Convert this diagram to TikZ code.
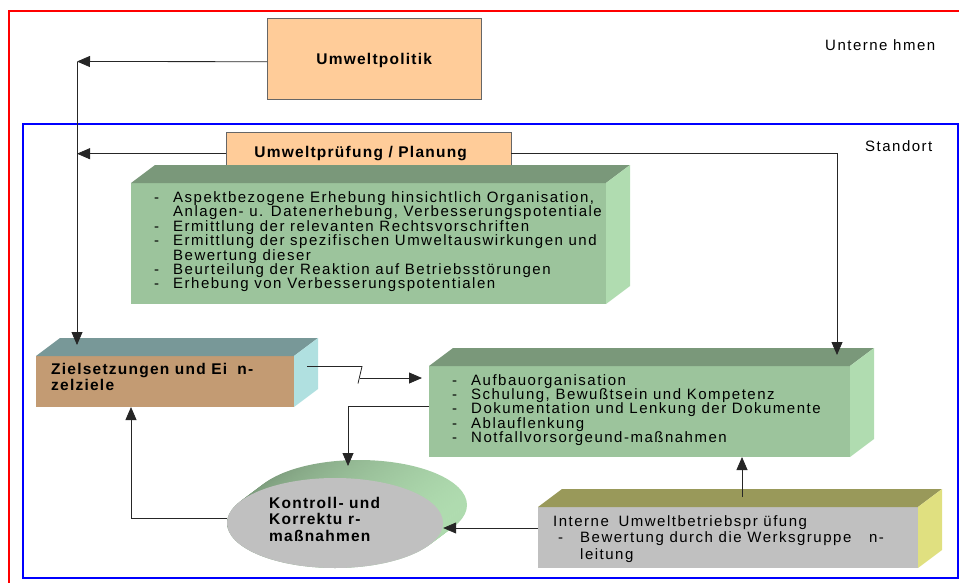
\documentclass[tikz,border=0pt]{standalone}
\usepackage{fontspec}
\setmainfont{Liberation Sans}
\newfontfamily\boxfont[LetterSpace=10]{Liberation Sans}
\newfontfamily\headfont[LetterSpace=8]{Liberation Sans}
\usetikzlibrary{arrows.meta, shapes.geometric}

\definecolor{peach}{HTML}{FFCC99}
\definecolor{greenfront}{HTML}{9CC49C}
\definecolor{greentop}{HTML}{7A987A}
\definecolor{greenside}{HTML}{B0DCB0}
\definecolor{tanfront}{HTML}{C39B73}
\definecolor{tantop}{HTML}{789898}
\definecolor{tanside}{HTML}{B0E0E0}
\definecolor{greyfront}{HTML}{C0C0C0}
\definecolor{olivetop}{HTML}{99995A}
\definecolor{yellowside}{HTML}{E0E080}

\newcommand{\strich}{\makebox[19pt][l]{-}}
\newcommand{\einzug}{\hspace*{19pt}}

\begin{document}
\begin{tikzpicture}[%
        x = 1pt, y = -1pt,
        pfeil/.style = {-{Triangle[length=13pt, width=11pt]}, line width=0.8pt, draw=black!85},
        flat/.style = {draw=black!60, fill=peach, anchor=north west, inner sep=0pt},
        quader/.style = {anchor=north west, inner sep=0pt, outer sep=0pt},
        txt/.style = {font=\boxfont\fontsize{15}{14.4}\selectfont, inner sep=0pt, anchor=north west, align=left},
        headtxt/.style = {font=\headfont\bfseries\fontsize{15.5}{16.5}\selectfont, inner sep=0pt}
    ]

        \useasboundingbox (0,0) rectangle (959,582);

        % Frames for company and site.
        \draw[red, line width=2pt] (9,590) -- (9,11) -- (970,11);
        \draw[blue, line width=2pt] (23,124) rectangle (958,578);
        \node[txt, anchor=base west] (unternehmen) at (825,50) {Unterne hmen};
        \node[txt, anchor=base west] (standort) at (865,151.5) {Standort};

        % Flat boxes at the top.
        \node[flat, minimum width=214, minimum height=81, headtxt, text depth=0pt] (politik) at (267,18) {Umweltpolitik};
        \node[flat, minimum width=285, minimum height=43, headtxt] (planung) at (226,132) {Umweltprüfung / Planung\hspace*{16pt}};

        % Front faces of the blocks.
        \node[quader, fill=greenfront, minimum width=475, minimum height=121] (aspekte) at (131,183) {};
        \node[quader, fill=tanfront, minimum width=258, minimum height=51] (ziel) at (36,356) {};
        \node[quader, fill=greenfront, minimum width=421, minimum height=91] (aufbau) at (429,366) {};
        \node[quader, fill=greyfront, minimum width=380, minimum height=61] (intern) at (538,507) {};

        % Top and side faces of the blocks.
        \foreach \nm/\tp/\sd in {aspekte/greentop/greenside, ziel/tantop/tanside,
                                 aufbau/greentop/greenside, intern/olivetop/yellowside}{%
            \fill[\tp] (\nm.north west) -- ++(24,-18) -- ([xshift=24pt, yshift=18pt]\nm.north east) -- (\nm.north east) -- cycle;
            \fill[\sd] (\nm.north east) -- ++(24,-18) -- ([xshift=24pt, yshift=18pt]\nm.south east) -- (\nm.south east) -- cycle;
        }

        % Ring behind the ellipse.
        \foreach \d in {24,22,...,0}{%
            \shade[left color=greentop, right color=greenside] ({335+\d},{523-0.75*\d}) ellipse [x radius=108, y radius=45];
        }
        \node[ellipse, fill=greyfront, minimum width=216, minimum height=90, inner sep=0pt] (kontroll) at (335,523) {};

        % Texts in the blocks.
        \node[txt] (aspektetext) at ([xshift=23pt, yshift=-8.5pt]aspekte.north west) {%
            \strich Aspektbezogene Erhebung hinsichtlich Organisation,\\
            \einzug Anlagen- u. Datenerhebung, Verbesserungspotentiale\\
            \strich Ermittlung der relevanten Rechtsvorschriften\\
            \strich Ermittlung der spezifischen Umweltauswirkungen und\\
            \einzug Bewertung dieser\\
            \strich Beurteilung der Reaktion auf Betriebsstörungen\\
            \strich Erhebung von Verbesserungspotentialen};
        \node[headtxt, anchor=north west, align=left] (zieltext) at ([xshift=15pt, yshift=-7pt]ziel.north west) {Zielsetzungen und Ei\hspace{10pt}n-\\zelziele};
        \node[txt, font=\boxfont\fontsize{15}{14.2}\selectfont] (aufbautext) at ([xshift=23pt, yshift=-8.5pt]aufbau.north west) {%
            \strich Aufbauorganisation\\
            \strich Schulung, Bewußtsein und Kompetenz\\
            \strich Dokumentation und Lenkung der Dokumente\\
            \strich Ablauflenkung\\
            \strich Notfallvorsorgeund-maßnahmen};
        \node[headtxt, anchor=north west, align=left] (kontrolltext) at (269,497) {Kontroll- und\\Korrektu r-\\maßnahmen};
        \node[txt, font=\boxfont\fontsize{15}{16.3}\selectfont] (interntext) at ([xshift=15pt, yshift=-8.5pt]intern.north west) {%
            Interne\hspace{4pt} Umweltbetriebspr üfung\\
            \hspace*{5pt}\makebox[22pt][l]{-}Bewertung durch die Werksgruppe\hspace{12pt} n-\\
            \hspace*{27pt}leitung};

        % Corners of the connectors.
        \coordinate (lk) at (77,61.5);
        \coordinate (rk) at (837,355);
        \coordinate (kt) at (348,466);
        \coordinate (knick) at (360,378);
        \coordinate (ia) at ([xshift=14pt, yshift=10pt]intern.north);

        % Connectors.
        \draw[pfeil] ([yshift=-3pt]politik.west) -- (lk);
        \draw[pfeil] (lk) -- ([yshift=11pt]ziel.north -| lk);
        \draw[pfeil] (planung.west) -- (planung.west -| lk);
        \draw[pfeil] (planung.east) -| (rk);
        \draw[line width=0.8pt, black!85] ([xshift=13pt, yshift=15pt]ziel.east) -- ++(55,0) -- ++(-4,17);
        \draw[pfeil] (knick) -- ([xshift=-7pt]aufbau.west |- knick);
        \draw[pfeil] ([yshift=5pt]aufbau.west) -| (kt);
        \draw[pfeil] ([yshift=5pt]kontroll.west) -| ([xshift=-34pt]ziel.south);
        \draw[pfeil] (ia) -- (ia |- aufbau.south);
        \draw[pfeil] ([yshift=9.5pt]intern.west) -- ([yshift=9.5pt]intern.west -| kontroll.east);
    \end{tikzpicture}
\end{document}
